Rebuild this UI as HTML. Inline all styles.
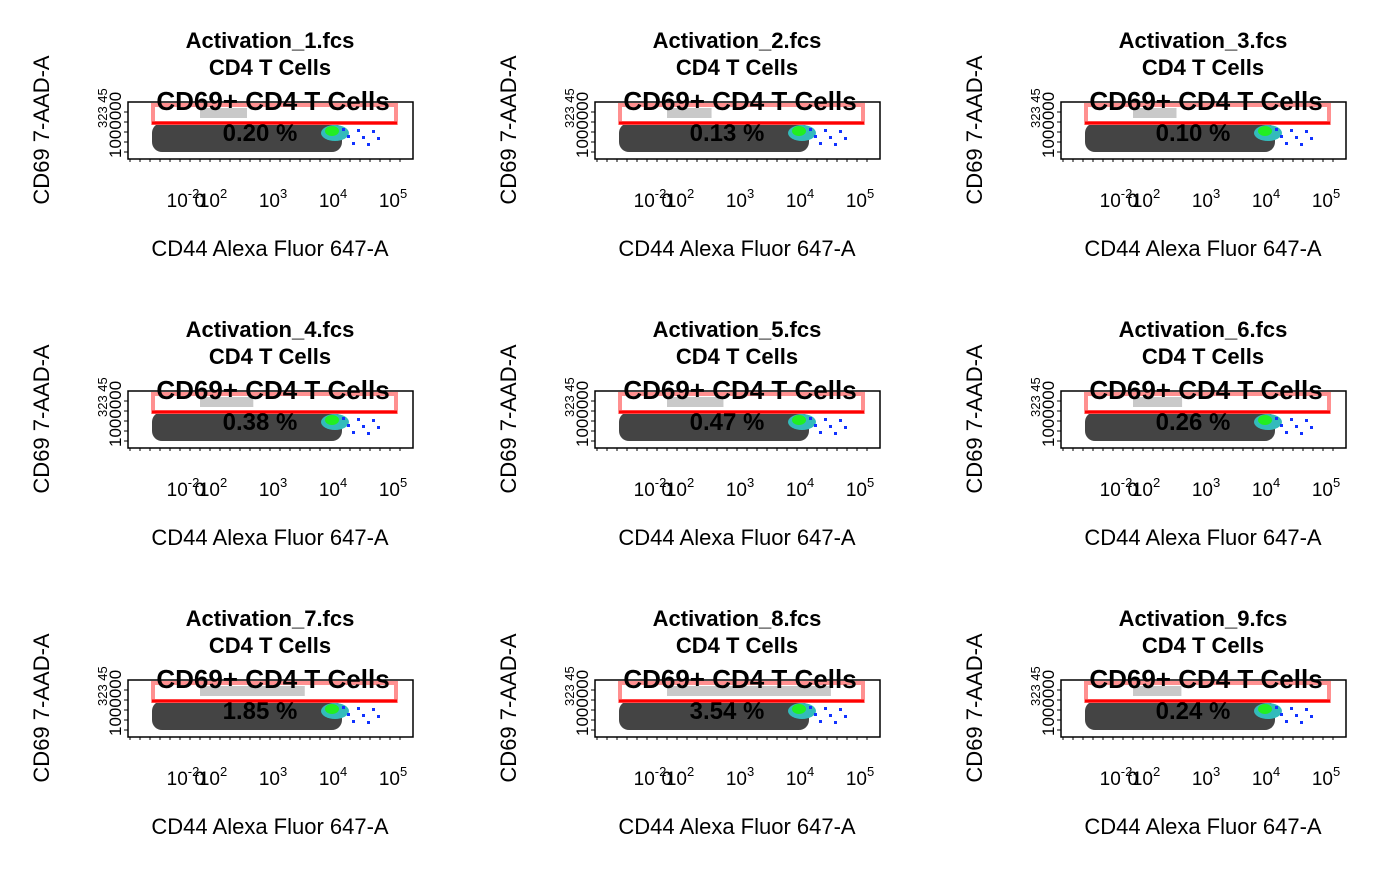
<!DOCTYPE html>
<html><head><meta charset="utf-8"><style>
body{margin:0;background:#fff;width:1400px;height:866px;overflow:hidden}
svg text{font-family:"Liberation Sans",Arial,sans-serif}
</style></head><body>
<svg id="c" width="1400" height="866"></svg>
<script>
const samples=["Activation_1.fcs","Activation_2.fcs","Activation_3.fcs","Activation_4.fcs","Activation_5.fcs","Activation_6.fcs","Activation_7.fcs","Activation_8.fcs","Activation_9.fcs"];
const percents=["0.20","0.13","0.10","0.38","0.47","0.26","1.85","3.54","0.24"];
const xTickLabels=["10","0","10","10","10","10"];
const xTickExps=["-2","","2","3","4","5"];
const xTickLogs=[1.5,1.78,2,3,4,5];
const NS="http://www.w3.org/2000/svg";
const svg=document.getElementById('c');
function mk(tag,attrs,parent,txt){const e=document.createElementNS(NS,tag);for(const k in attrs)e.setAttribute(k,attrs[k]);if(txt!==undefined)e.textContent=txt;parent.appendChild(e);return e;}
const colX=[0,467,933], rowY=[0,289,578];
samples.forEach((s,i)=>{
  const ox=colX[i%3], oy=rowY[Math.floor(i/3)];
  const g=mk('g',{transform:`translate(${ox},${oy})`},svg);
  
  
  const xs=v=>93+60*v;
  const cl=mk('rect',{x:152,y:123,width:190,height:29,rx:10,fill:'#444'},g);
  
  
  mk('ellipse',{cx:335,cy:133,rx:14,ry:8,fill:'#3bb'},g);
  mk('ellipse',{cx:332,cy:131,rx:7,ry:5,fill:'#2e2'},g);
  for(let k=0;k<8;k++)mk('rect',{x:342+k*5,y:128+(k*7)%20,width:3,height:3,fill:'#13f'},g);
  const p=parseFloat(percents[i]);
  mk('rect',{x:200,y:108,width:Math.min(180,p*35+40),height:10,fill:'#bbb',opacity:0.8},g);
  const bx=mk('rect',{x:128,y:102,width:285,height:57,fill:'none',stroke:'#000','stroke-width':1.5},g);
  
  
  const gt=mk('rect',{x:153,y:105,width:243,height:18,fill:'none',stroke:'#ff9090','stroke-width':4},g);
  
  
  mk('line',{x1:152,y1:123,x2:397,y2:123,stroke:'#f00','stroke-width':3},g);
  for(let t=0;t<28;t++)mk('line',{x1:130+t*10,y1:159,x2:130+t*10,y2:162,stroke:'#000'},g);
  xTickLabels.forEach((l,j)=>{
    const t=mk('text',{x:xs(xTickLogs[j]),y:207,'font-size':19,'text-anchor':'middle'},g);
    
    
    t.textContent=l;
    if(xTickExps[j]){mk('tspan',{dy:-9,'font-size':13},t,xTickExps[j]);}
  });
  for(let t=0;t<5;t++)mk('line',{x1:124,y1:112+t*10,x2:128,y2:112+t*10,stroke:'#000'},g);
  mk('text',{transform:'translate(121,158) rotate(-90)','font-size':17},g,'1000000');
  mk('text',{transform:'translate(107,128) rotate(-90)','font-size':13},g,'323 45');
  const tt=mk('text',{x:270,y:48,'font-size':22,'font-weight':'bold','text-anchor':'middle'},g,s);
  
  
  mk('text',{x:270,y:75,'font-size':22,'font-weight':'bold','text-anchor':'middle'},g,'CD4 T Cells');
  mk('text',{x:273,y:110,'font-size':26,'font-weight':'bold','text-anchor':'middle'},g,'CD69+ CD4 T Cells');
  const pc=mk('text',{x:260,y:141,'font-size':24,'font-weight':'bold','text-anchor':'middle'},g,percents[i]+' %');
  
  
  const xl=mk('text',{x:270,y:256,'font-size':22,'text-anchor':'middle'},g,'CD44 Alexa Fluor 647-A');
  
  
  const yl=mk('text',{transform:'translate(49,130) rotate(-90)','font-size':22,'text-anchor':'middle'},g,'CD69 7-AAD-A');
  
  
});
</script>
</body></html>
